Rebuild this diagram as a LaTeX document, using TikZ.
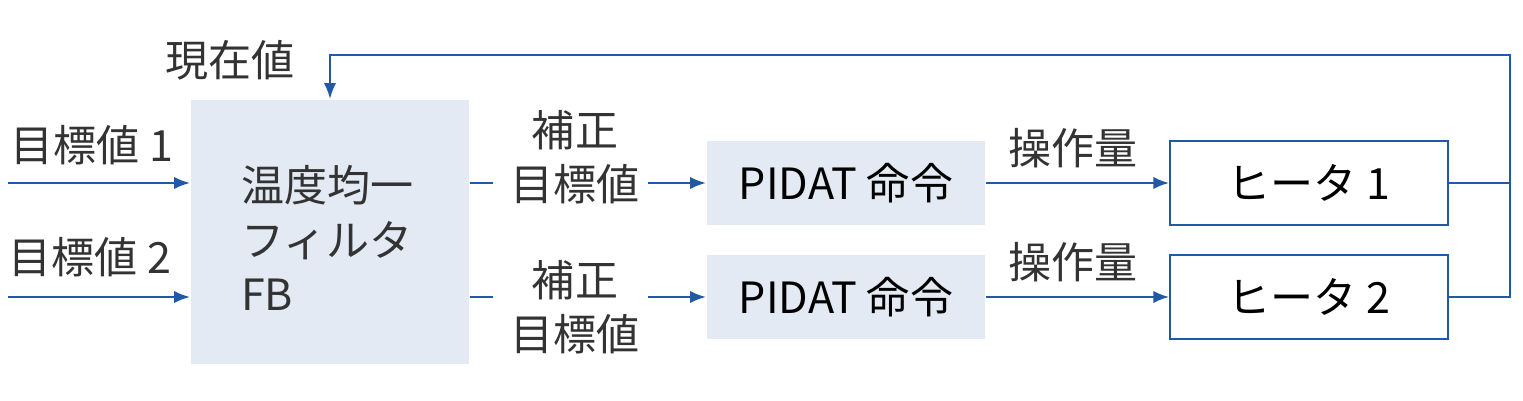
\documentclass[tikz,border=0pt]{standalone}
\usepackage{fontspec}
\setmainfont{Noto Sans CJK JP}
\usetikzlibrary{calc,arrows.meta}
\definecolor{flow}{HTML}{1F5AA6}
\definecolor{pale}{HTML}{E3EAF3}
\begin{document}
\begin{tikzpicture}[x=0.02cm,y=-0.02cm,font=\fontsize{24.5}{31}\selectfont,
  >={Latex[length=9pt,width=7pt]}, ->, draw=flow, line width=1.2pt]
  \tikzstyle{block}=[draw=none,fill=pale,minimum width=5.56cm,inner sep=0pt]
  \tikzstyle{heater}=[draw=flow,line width=1pt,fill=white,minimum width=5.56cm,minimum height=1.68cm,inner sep=0pt]
  \tikzstyle{annot}=[align=center,text=black!80,inner sep=0pt]

  \useasboundingbox (0,0) rectangle (1523,401);
  \node[block,minimum height=5.28cm] (F) at (330,232) {};
  \node[annot,align=left,anchor=west] (ft) at (240,238) {温度均一\\フィルタ\\FB};
  \node[annot] (cur) at (230,60) {現在値};
  \node[annot] (t1) at (92,145) {目標値 1};
  \node[annot] (t2) at (90,257) {目標値 2};

  \foreach \n / \y / \cy in {1/183/157,2/297/307} {
    \node[block,minimum height=1.68cm] (P-\n) at (846,\y) {PIDAT 命令};
    \node[heater] (H-\n) at (1309,\y) {ヒータ \n};
    \node[annot] (c-\n) at (575,\cy) {補正\\目標値};
    \node[annot] (m-\n) at (1073,\y-35) {操作量};
    \coordinate (in-\n) at (8,\y);
    \coordinate (a-\n) at (493,\y);
    \coordinate (b-\n) at (648,\y);
    \coordinate (r-\n) at (1510,\y);
    \draw (in-\n) -- (190,\y);
    \draw[-] (F.east |- a-\n) -- (a-\n);
    \draw (b-\n) -- (P-\n);
    \draw (P-\n) -- (H-\n);
  }
  \draw[-] (H-2) -- (r-2) -- (r-1);
  \draw (H-1) -- (r-1) -- (1510,55) -- (330,55) -- (F.north -| 330,0);
\end{tikzpicture}
\end{document}
